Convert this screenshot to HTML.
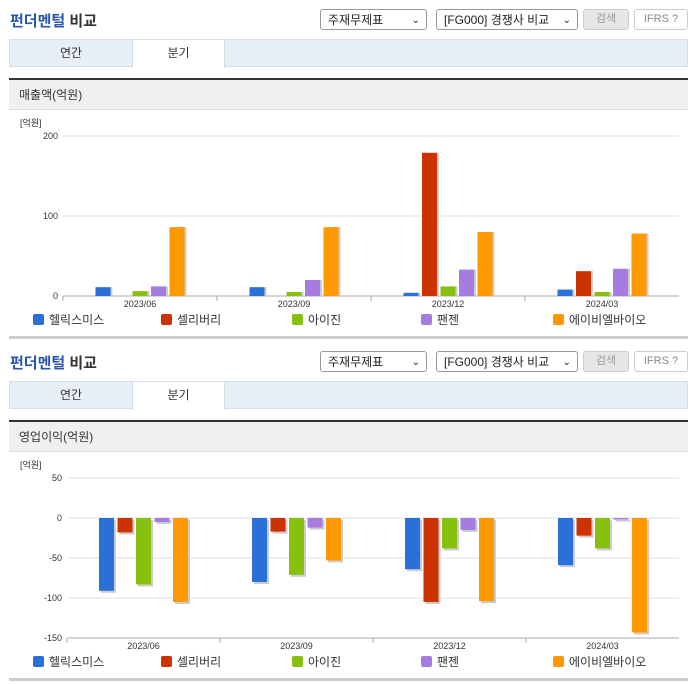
<!DOCTYPE html>
<html><head><meta charset="utf-8">
<style>
body{margin:0;width:696px;height:684px;background:#fff;position:relative;font-family:"Liberation Sans","Noto Sans CJK KR",sans-serif;overflow:hidden}
.abs{position:absolute}
.title{left:10px;font-size:15px;font-weight:bold;color:#333}
.title span{color:#2a56b0}
.sel{border:1px solid #999;border-radius:3px;height:21px;font-size:12px;line-height:21px;padding-left:7px;box-sizing:border-box;color:#222;background:#fff}
.sel i{position:absolute;right:6px;top:0;font-style:normal;font-size:10px}
.btn{border:1px solid #ccc;border-radius:3px;height:21px;box-sizing:border-box;font-size:11px;line-height:19px;text-align:center;color:#999}
.tabbar{left:9px;width:679px;height:28px;background:#e8eef7;border:1px solid #d5dde8;box-sizing:border-box}
.tab{top:0;height:27px;line-height:27px;text-align:center;font-size:12px;color:#333}
.dark{left:9px;width:679px;height:3px;background:#333}
.hdr{left:9px;width:679px;height:30px;background:#f0f0f0;border-bottom:1px solid #ddd;box-sizing:border-box;font-size:12px;line-height:30px;padding-left:10px;color:#333}
.bot{left:9px;width:679px;height:3px;background:#ccc}
</style></head><body>
<div id="root"></div>
<script>
const categories=["2023/06","2023/09","2023/12","2024/03"];
const seriesNames=["헬릭스미스","셀리버리","아이진","팬젠","에이비엘바이오"];
const colors=["#2b6fd8","#cc3300","#88c010","#a77ce0","#ff9900"];
const sales_helix=[11,11,4,8];
const sales_cellivery=[0,0,179,31];
const sales_eyegene=[6,5,12,5];
const sales_pangen=[12,20,33,34];
const sales_abl=[86,86,80,78];
const op_helix=[-91,-80,-64,-59];
const op_cellivery=[-18,-17,-105,-22];
const op_eyegene=[-83,-71,-38,-38];
const op_pangen=[-5,-12,-15,-2];
const op_abl=[-105,-53,-104,-143];
const ticks1=[0,100,200];
const ticks2=[-150,-100,-50,0,50];
const root=document.getElementById('root');
const NS="http://www.w3.org/2000/svg";
function mk(tag,cls,top,extra){const d=document.createElement(tag);d.className='abs '+(cls||'');d.style.top=top+'px';if(extra)Object.assign(d.style,extra);root.appendChild(d);return d;}
function block(off,hdrText,series,ticks,ymin,ymax,zeroY,pxPer,X0){
  let t=mk('div','title',off+10);t.innerHTML='<span>펀더멘털</span> 비교';
  
  let s1=mk('div','sel',off+9,{left:'320px',width:'107px'});s1.innerHTML='주재무제표<i>⌄</i>';
  
  let s2=mk('div','sel',off+9,{left:'436px',width:'142px'});s2.innerHTML='[FG000] 경쟁사 비교<i>⌄</i>';
  
  let b=mk('div','btn',off+9,{left:'583px',width:'46px',background:'#e6e6e6'});b.textContent='검색';
  
  let b2=mk('div','btn',off+9,{left:'634px',width:'54px',color:'#888'});b2.textContent='IFRS ?';
  
  let tb=mk('div','tabbar',off+39);
  let t1=document.createElement('div');t1.className='abs tab';t1.style.left='0';t1.style.width='122px';t1.textContent='연간';tb.appendChild(t1);
  
  let t2=document.createElement('div');t2.className='abs tab';t2.style.left='122px';t2.style.width='91px';t2.style.background='#fff';t2.style.height='28px';t2.style.borderRight='1px solid #d5dde8';t2.style.borderLeft='1px solid #d5dde8';t2.textContent='분기';tb.appendChild(t2);
  
  let dk=mk('div','dark',off+78);
  let h=mk('div','hdr',off+80);h.textContent=hdrText;
  let bt=mk('div','bot',off+336);
  const svg=document.createElementNS(NS,'svg');svg.setAttribute('width','696');svg.setAttribute('height','230');
  svg.style.position='absolute';svg.style.left='0';svg.style.top=(off+110)+'px';root.appendChild(svg);
  
  const X1=679,zy=zeroY-(off+110);
  const y=v=>zy-v*pxPer;
  const cw=(X1-X0)/categories.length;
  function el(tag,a,txt){const e=document.createElementNS(NS,tag);for(const k in a)e.setAttribute(k,a[k]);if(txt!=null)e.textContent=txt;svg.appendChild(e);return e;}
  let u=el('text',{x:20,y:16,'font-size':9,fill:'#333'},'[억원]');
  ticks.forEach(tv=>{
    let g=el('line',{x1:X0,x2:X1,y1:y(tv),y2:y(tv),stroke:'#dde',"stroke-width":1});
    
    let tl=el('text',{x:X0-5,y:y(tv)+3,'font-size':9,fill:'#333','text-anchor':'end'},String(tv));
    
  });
  const by=y(ymin);
  let ax=el('line',{x1:X0,x2:X1,y1:by,y2:by,stroke:'#aab',"stroke-width":1});
  
  categories.forEach((c,i)=>{
    const cx=X0+cw*(i+0.5);
    let tk=el('line',{x1:X0+cw*i,x2:X0+cw*i,y1:by,y2:by+5,stroke:'#aab'});
    
    let xl=el('text',{x:cx,y:by+11,'font-size':9,fill:'#333','text-anchor':'middle'},c);
    
    series.forEach((arr,k)=>{
      const v=arr[i];if(v===0)return;
      const bx=cx+(k-2)*18.5-7.5;
      const top=Math.min(y(v),y(0)),hh=Math.abs(y(v)-y(0));
      let sh=el('rect',{x:bx+2,y:top+(v<0?2:0),width:15,height:hh,fill:'#ccc'});
      
      let r=el('rect',{x:bx,y:top,width:15,height:hh,fill:colors[k]});
      
    });
  });
  const lx=[33,161,292,421,553];
  seriesNames.forEach((n,k)=>{
    let sq=el('rect',{x:lx[k],y:by+18,width:11,height:11,rx:2,fill:colors[k]});
    
    let lt=el('text',{x:lx[k]+16,y:by+28,'font-size':12,fill:'#333'},n);
    
  });
}
block(0,'매출액(억원)',[sales_helix,sales_cellivery,sales_eyegene,sales_pangen,sales_abl],ticks1,0,200,296,0.8,63);
block(342,'영업이익(억원)',[op_helix,op_cellivery,op_eyegene,op_pangen,op_abl],ticks2,-150,50,518,0.8,67);
</script>
</body></html>
